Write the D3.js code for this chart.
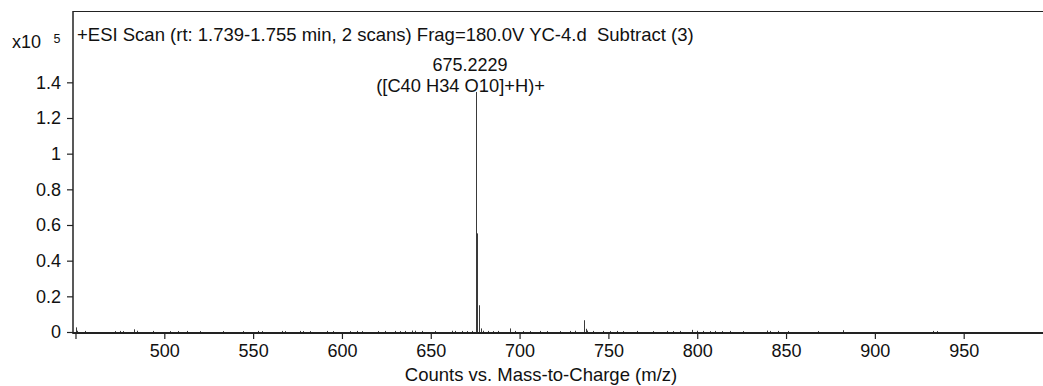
<!DOCTYPE html>
<html>
<head>
<meta charset="utf-8">
<script src="https://cdn.jsdelivr.net/npm/d3@7"></script>
<style>
  html, body { margin: 0; padding: 0; background: #fff; }
  svg { display: block; font-family: "Liberation Sans", Arial, sans-serif; }
  svg text { white-space: pre; }
</style>
</head>
<body>
<svg id="chart" width="1043" height="386"></svg>
<script>
// Centroided MS peaks: m/z and counts
const peakMz = [
  450.3, 450.7, 455.4, 472.2, 475.1, 476.9, 482.9, 484.4, 493.8, 503.2,
  507.9, 512.6, 520.1, 533.2, 544.5, 552.9, 554.8, 566.1, 567.9, 576.4,
  578.2, 582.0, 591.4, 595.1, 604.5, 608.3, 611.1, 620.5, 624.2, 629.9,
  632.7, 635.5, 639.3, 641.1, 644.9, 652.4, 661.8, 663.6, 667.4, 670.2,
  673.0, 675.2229, 676.2262, 677.2290, 678.2, 679.6, 682.4, 685.2, 688.0, 694.6,
  697.4, 702.1, 705.9, 711.5, 715.3, 722.8, 728.4, 731.2, 736.2, 737.2,
  738.2, 741.5, 747.1, 750.9, 754.7, 758.4, 765.9, 775.3, 782.8, 786.5,
  790.3, 796.9, 799.7, 803.4, 807.2, 810.0, 813.8, 818.4, 825.9, 839.1,
  840.9, 845.6, 851.3, 868.2, 881.9, 932.9, 934.8
];
const peakCounts = [
  2600, 700, 600, 500, 600, 500, 1500, 700, 600, 500,
  500, 600, 500, 500, 500, 600, 500, 600, 500, 600,
  500, 500, 600, 500, 500, 600, 500, 500, 600, 600,
  500, 600, 800, 700, 600, 500, 700, 600, 600, 500,
  600, 134600, 55300, 15000, 2000, 700, 600, 500, 600, 2000,
  600, 500, 500, 600, 500, 500, 600, 700, 6600, 1800,
  800, 600, 600, 500, 600, 500, 600, 500, 600, 500,
  600, 1200, 700, 600, 500, 600, 500, 600, 500, 800,
  600, 600, 500, 500, 1000, 600, 500
];

const xTicks = [450, 500, 550, 600, 650, 700, 750, 800, 850, 900, 950];
const yTicks = [0, 20000, 40000, 60000, 80000, 100000, 120000, 140000];

const titleText = "+ESI Scan (rt: 1.739-1.755 min, 2 scans) Frag=180.0V YC-4.d  Subtract (3)";
const xAxisTitle = "Counts vs. Mass-to-Charge (m/z)";
const annotMz = 675.2229;
const annotLines = ["675.2229", "([C40 H34 O10]+H)+"];

const svg = d3.select("#chart");
const plotLeft = 73, plotRight = 1044, plotTop = 11, plotBase = 332;
const fontFamily = "'Liberation Sans', Arial, sans-serif";

const x = d3.scaleLinear().domain([448.6, 995.0]).range([plotLeft, plotLeft + (995.0 - 448.6) * 1.7764]);
const y = d3.scaleLinear().domain([0, 180000]).range([plotBase, plotTop]);

// Peaks as stick lines
svg.append("g")
  .selectAll("line")
  .data(peakMz.map((m, i) => ({ m, c: peakCounts[i] })))
  .join("line")
  .attr("x1", d => Math.round(x(d.m)) + 0.5)
  .attr("x2", d => Math.round(x(d.m)) + 0.5)
  .attr("y1", y(0))
  .attr("y2", d => y(d.c))
  .attr("stroke", "#3a3a3a")
  .attr("stroke-width", 1);

// Frame top line
svg.append("line")
  .attr("x1", plotLeft).attr("x2", plotRight).attr("y1", plotTop + 0.5).attr("y2", plotTop + 0.5)
  .attr("stroke", "#222").attr("stroke-width", 1.2);

// Y axis
const yAxis = d3.axisLeft(y)
  .tickValues(yTicks)
  .tickSize(6)
  .tickPadding(6)
  .tickFormat(d => d3.format("~g")(d / 100000));
const gy = svg.append("g")
  .attr("transform", `translate(${plotLeft},0)`)
  .call(yAxis);
gy.select(".domain").remove();
gy.selectAll(".tick line").attr("stroke", "#222").attr("stroke-width", 1.2);
gy.selectAll(".tick text").attr("font-size", 18).attr("fill", "#111")
  .attr("font-family", fontFamily);
svg.append("line")
  .attr("x1", plotLeft).attr("x2", plotLeft).attr("y1", plotTop).attr("y2", plotBase + 2)
  .attr("stroke", "#222").attr("stroke-width", 1.5);

// X axis
const xAxis = d3.axisBottom(x)
  .tickValues(xTicks)
  .tickSize(6)
  .tickPadding(11)
  .tickFormat(d => d === 450 ? "" : d);
const gx = svg.append("g")
  .attr("transform", `translate(0,${plotBase + 1})`)
  .call(xAxis);
gx.select(".domain").remove();
gx.selectAll(".tick line").attr("stroke", "#222").attr("stroke-width", 1.2);
gx.selectAll(".tick text").attr("font-size", 18).attr("fill", "#111")
  .attr("font-family", fontFamily)
  .attr("dy", "0.71em")
  .attr("y", 11);
svg.append("line")
  .attr("x1", plotLeft).attr("x2", plotRight).attr("y1", plotBase + 1).attr("y2", plotBase + 1)
  .attr("stroke", "#222").attr("stroke-width", 2);

// Exponent label
svg.append("text").attr("x", 12).attr("y", 48).attr("font-size", 18).attr("fill", "#111").text("x10");
svg.append("text").attr("x", 53.5).attr("y", 43).attr("font-size", 12.5).attr("fill", "#111").text("5");

// Scan title
svg.append("text").attr("x", 77).attr("y", 41).attr("font-size", 18.5).attr("fill", "#111").text(titleText);

// Peak annotation
const px = x(annotMz);
svg.append("text").attr("x", px - 5.6).attr("y", 71).attr("text-anchor", "middle")
  .attr("font-size", 18).attr("fill", "#111").text(annotLines[0]);
svg.append("text").attr("x", px - 15).attr("y", 92).attr("text-anchor", "middle")
  .attr("font-size", 18.3).attr("fill", "#111").text(annotLines[1]);

// X axis title
svg.append("text").attr("x", 541).attr("y", 381).attr("text-anchor", "middle")
  .attr("font-size", 18.5).attr("fill", "#111").text(xAxisTitle);
</script>
</body>
</html>
